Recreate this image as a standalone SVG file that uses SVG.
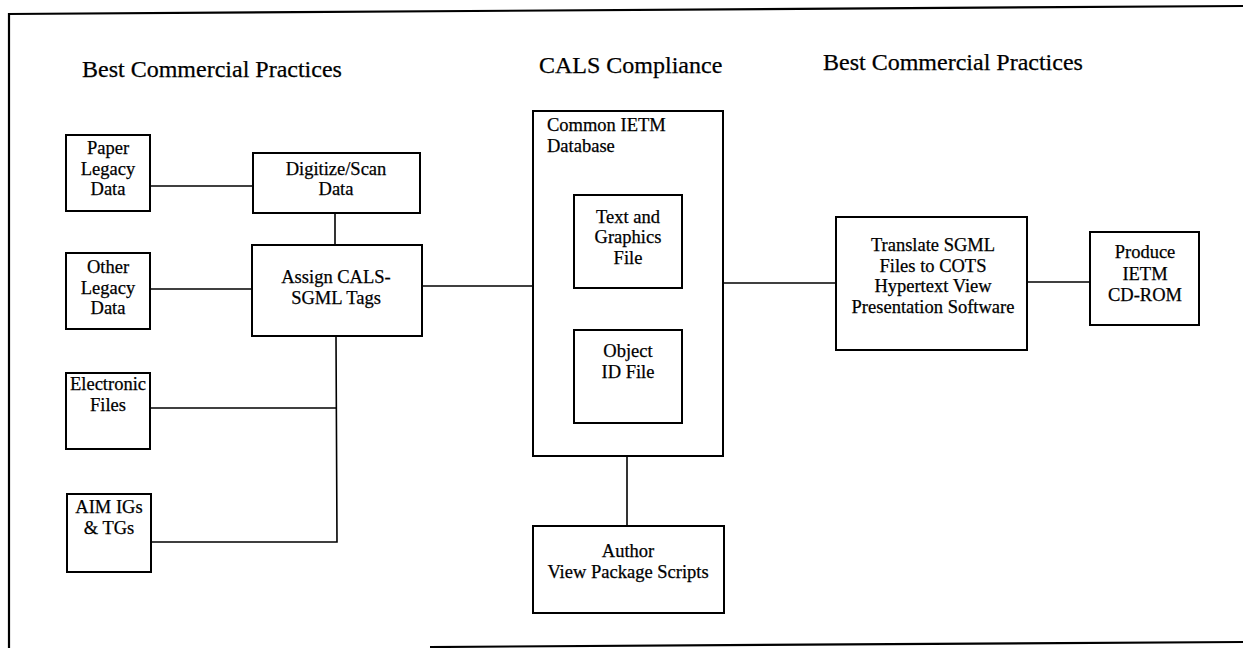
<svg xmlns="http://www.w3.org/2000/svg" width="1243" height="648" viewBox="0 0 1243 648">
  <style>
    .box { fill: #ffffff; stroke: #000000; stroke-width: 2; }
    .frame { fill: none; stroke: #000000; stroke-width: 2.2; }
    .wire { fill: none; stroke: #000000; stroke-width: 1.6; }
    text { font-family: "Liberation Serif", "Times New Roman", serif; fill: #000000; stroke: #000000; stroke-width: 0.25; }
    .hdr { font-size: 24px; }
    .lbl { font-size: 18.5px; text-anchor: middle; }
    .lbl-l { font-size: 18.5px; }
  </style>
  <rect width="1243" height="648" fill="#ffffff"/>

  <!-- page frame -->
  <g id="frame">
    <line class="frame" x1="8" y1="14" x2="1243" y2="6"/>
    <line class="frame" x1="9" y1="13" x2="9" y2="648"/>
    <line class="frame" x1="430" y1="647" x2="1243" y2="642"/>
  </g>

  <!-- column headings -->
  <g id="headings">
    <text class="hdr" x="82" y="77">Best Commercial Practices</text>
    <text class="hdr" x="539" y="73">CALS Compliance</text>
    <text class="hdr" x="823" y="70">Best Commercial Practices</text>
  </g>

  <!-- connectors -->
  <g id="connectors">
    <line class="wire" x1="150" y1="186" x2="253" y2="186"/>
    <line class="wire" x1="335" y1="213" x2="335" y2="245"/>
    <line class="wire" x1="150" y1="289" x2="252" y2="289"/>
    <polyline class="wire" points="336,336 337,542 151,542"/>
    <line class="wire" x1="150" y1="408" x2="337" y2="408"/>
    <line class="wire" x1="422" y1="286" x2="533" y2="286"/>
    <line class="wire" x1="723" y1="283" x2="836" y2="283"/>
    <line class="wire" x1="1027" y1="282" x2="1090" y2="282"/>
    <line class="wire" x1="627" y1="456" x2="627" y2="526"/>
  </g>

  <g id="paper-legacy">
    <rect class="box" x="66" y="135" width="84" height="76"/>
    <text class="lbl" x="108" y="154">Paper</text>
    <text class="lbl" x="108" y="175">Legacy</text>
    <text class="lbl" x="108" y="195">Data</text>
  </g>

  <g id="other-legacy">
    <rect class="box" x="66" y="253" width="84" height="76"/>
    <text class="lbl" x="108" y="273">Other</text>
    <text class="lbl" x="108" y="294">Legacy</text>
    <text class="lbl" x="108" y="314">Data</text>
  </g>

  <g id="electronic-files">
    <rect class="box" x="66" y="373" width="84" height="76"/>
    <text class="lbl" x="108" y="390">Electronic</text>
    <text class="lbl" x="108" y="411">Files</text>
  </g>

  <g id="aim">
    <rect class="box" x="67" y="494" width="84" height="78"/>
    <text class="lbl" x="109" y="513">AIM IGs</text>
    <text class="lbl" x="109" y="534">&amp; TGs</text>
  </g>

  <g id="digitize">
    <rect class="box" x="253" y="153" width="167" height="60"/>
    <text class="lbl" x="336" y="175">Digitize/Scan</text>
    <text class="lbl" x="336" y="195">Data</text>
  </g>

  <g id="assign-tags">
    <rect class="box" x="252" y="245" width="170" height="91"/>
    <text class="lbl" x="336" y="283">Assign CALS-</text>
    <text class="lbl" x="336" y="304">SGML Tags</text>
  </g>

  <g id="ietm-database">
    <rect class="box" x="533" y="111" width="190" height="345"/>
    <text class="lbl-l" x="547" y="131">Common IETM</text>
    <text class="lbl-l" x="547" y="152">Database</text>
  </g>

  <g id="text-graphics">
    <rect class="box" x="574" y="195" width="108" height="93"/>
    <text class="lbl" x="628" y="223">Text and</text>
    <text class="lbl" x="628" y="243">Graphics</text>
    <text class="lbl" x="628" y="264">File</text>
  </g>

  <g id="object-id">
    <rect class="box" x="574" y="330" width="108" height="93"/>
    <text class="lbl" x="628" y="357">Object</text>
    <text class="lbl" x="628" y="378">ID File</text>
  </g>

  <g id="author">
    <rect class="box" x="533" y="526" width="191" height="87"/>
    <text class="lbl" x="628" y="557">Author</text>
    <text class="lbl" x="628" y="578">View Package Scripts</text>
  </g>

  <g id="translate">
    <rect class="box" x="836" y="217" width="191" height="133"/>
    <text class="lbl" x="933" y="251">Translate SGML</text>
    <text class="lbl" x="933" y="272">Files to COTS</text>
    <text class="lbl" x="933" y="292">Hypertext View</text>
    <text class="lbl" x="933" y="313">Presentation Software</text>
  </g>

  <g id="produce">
    <rect class="box" x="1090" y="232" width="109" height="93"/>
    <text class="lbl" x="1145" y="258">Produce</text>
    <text class="lbl" x="1145" y="280">IETM</text>
    <text class="lbl" x="1145" y="301">CD-ROM</text>
  </g>
</svg>
